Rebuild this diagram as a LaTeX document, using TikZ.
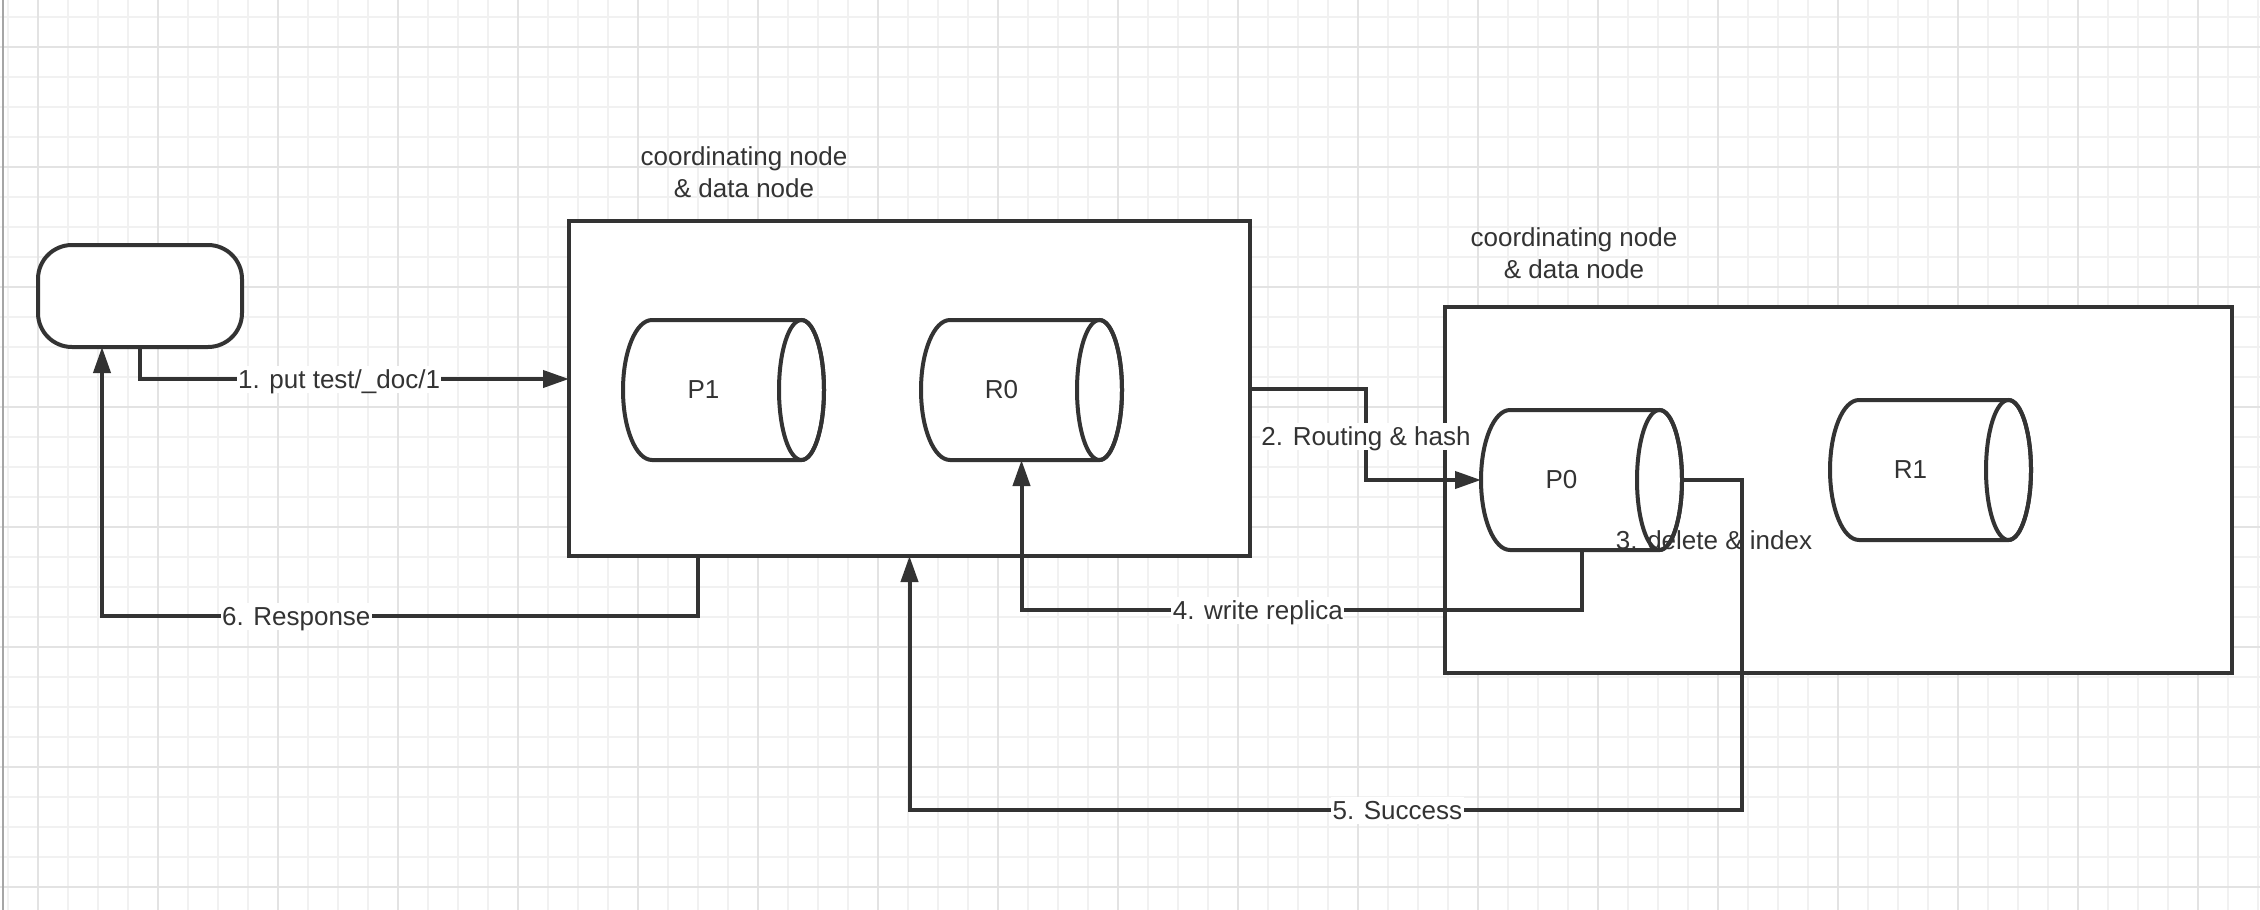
\documentclass[tikz,border=0pt]{standalone}
\usepackage{fontspec}
\setmainfont{Liberation Sans}
\usetikzlibrary{arrows.meta}
\definecolor{ink}{HTML}{333333}
\definecolor{gminor}{HTML}{F1F1F1}
\definecolor{gmajor}{HTML}{E3E3E3}
\newcommand\mycyl[4]{%
  \node[cylbox] (#1) at (#2,#3) {};
  \draw[plain, fill=white] ([xshift=29pt]#1.north west) -- ([xshift=-22.5pt]#1.north east)
    arc[start angle=-90, end angle=90, x radius=22.5, y radius=70]
    -- ([xshift=29pt]#1.south west)
    arc[start angle=90, end angle=270, x radius=29, y radius=70] -- cycle;
  \draw[plain] ([xshift=-22.5pt]#1.east) ellipse [x radius=22.5, y radius=70];
  \node[txt] (#1t) at ([xshift=-20pt]#1.center) {#4};
}
\begin{document}
\begin{tikzpicture}[x=1pt,y=-1pt,
  plain/.style={draw=ink, line width=4pt},
  box/.style={draw=ink, line width=4pt, fill=white, inner sep=0pt, outer sep=0pt},
  cylbox/.style={inner sep=0pt, outer sep=0pt, minimum width=201pt, minimum height=140pt},
  conn/.style={draw=ink, line width=4pt, -{Triangle[length=26pt,width=17pt]}},
  lbl/.style={fill=white, inner sep=1.5pt, text=ink, font=\fontsize{26}{32}\selectfont, text height=21pt, text depth=3pt},
  txt/.style={text=ink, font=\fontsize{26}{32}\selectfont, align=center, inner sep=0pt},
]
\useasboundingbox (0,0) rectangle (2260,910);
\fill[white] (0,0) rectangle (2260,910);
% grid
\foreach \x in {8,38,...,2258} \draw[gminor, line width=1.5pt] (\x,0) -- (\x,910);
\foreach \y in {17,47,...,907} \draw[gminor, line width=1.5pt] (0,\y) -- (2260,\y);
\foreach \x in {38,158,...,2258} \draw[gmajor, line width=2pt] (\x,0) -- (\x,910);
\foreach \y in {47,167,...,887} \draw[gmajor, line width=2pt] (0,\y) -- (2260,\y);
\draw[gray!70, line width=2pt] (3,0) -- (3,910);

% containers
\node[box, minimum width=681pt, minimum height=335pt] (n1) at (909.5,388.5) {};
\node[box, minimum width=787pt, minimum height=366pt] (n2) at (1838.5,490) {};
\node[txt] (t1) at (744,172) {coordinating node\\\& data node};
\node[txt] (t2) at (1574,253) {coordinating node\\\& data node};

% client
\node[draw=ink, line width=4pt, fill=white, rounded corners=34pt, minimum width=204pt, minimum height=102pt, inner sep=0pt, outer sep=0pt] (client) at (140,296) {};

% shards
\mycyl{p1}{723.5}{390}{P1}
\mycyl{r0}{1021.5}{390}{R0}
\mycyl{p0}{1581.5}{480}{P0}
\mycyl{r1}{1930.5}{470}{R1}

\node[txt] (l3) at (1714,540) {3. delete \& index};

% connectors
\draw[conn] (client.south) |- node[lbl, pos=0.732] {1. put test/\_doc/1} ([yshift=9.5pt]n1.west);
\draw[conn] (n1.east) -- ++(116,0) |- node[lbl, pos=0.26] {2. Routing \& hash} (p0.west);
\draw[conn] (p0.south) -- ++(0,60) -| node[lbl, pos=0.289] {4. write replica} (r0.south);
\draw[conn] (p0.east) -- ++(60,0) -- ++(0,330) -| node[lbl, pos=0.207] {5. Success} (n1.south);
\draw[conn] ([xshift=-211.5pt]n1.south) -- ++(0,60) -| node[lbl, pos=0.337] {6. Response} ([xshift=-38pt]client.south);
\end{tikzpicture}
\end{document}
